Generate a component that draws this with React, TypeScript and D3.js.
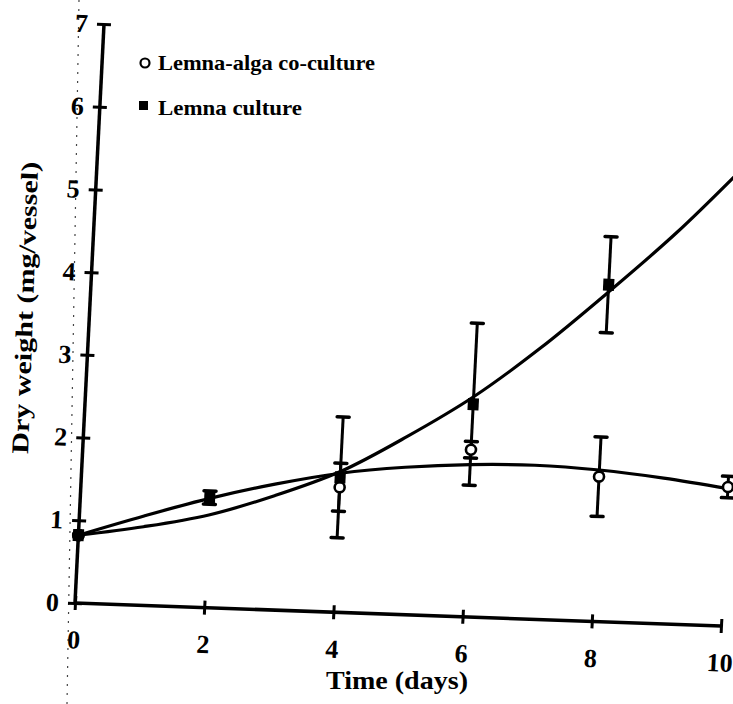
import React, { useEffect, useRef } from 'react';
import * as d3 from 'd3';

const lemnaDays = [0, 2, 4, 6, 8];
const lemnaMean = [0.82, 1.33, 1.63, 2.57, 4.07];
const lemnaErr = [0, 0.08, 0.73, 0.98, 0.58];

const coDays = [0, 4, 6, 8, 10];
const coMean = [0.82, 1.51, 2.02, 1.75, 1.68];
const coErr = [0, 0.29, 0.1, 0.48, 0.13];

// fitted curves as drawn in the figure
const fitDays = [0, 1, 2, 3, 4, 5, 6, 7, 8, 9, 10];
const lemnaFit = [0.82, 0.95, 1.12, 1.38, 1.7, 2.15, 2.66, 3.28, 3.98, 4.72, 5.55];
const coFit = [0.82, 1.08, 1.32, 1.52, 1.68, 1.78, 1.84, 1.86, 1.83, 1.76, 1.66];

const xTicks = [0, 2, 4, 6, 8, 10];
const yTicks = [0, 1, 2, 3, 4, 5, 6, 7];

const legendLabels = ['Lemna-alga co-culture', 'Lemna culture'];

const FONT = '"Liberation Serif", "Times New Roman", serif';

export default function App() {
  const svgRef = useRef<SVGSVGElement>(null);

  useEffect(() => {
    if (!svgRef.current) return;
    const svg = d3.select(svgRef.current);
    svg.selectAll('*').remove();

    const width = 733;
    const height = 704;
    const innerWidth = 646;
    const innerHeight = 579;

    svg.append('rect').attr('width', width).attr('height', height).attr('fill', '#fff');

    // faint fold mark of the scanned page
    svg.append('line')
      .attr('x1', 79).attr('y1', 0).attr('x2', 67).attr('y2', 704)
      .attr('stroke', '#444').attr('stroke-width', 1.2)
      .attr('stroke-dasharray', '2,7');

    const x = d3.scaleLinear().domain([0, 10]).range([0, innerWidth]);
    const y = d3.scaleLinear().domain([0, 7]).range([innerHeight, 0]);

    // the scan is slightly sheared: axes are not quite perpendicular to the page
    const g = svg.append('g')
      .attr('transform', 'matrix(1,0.0356,-0.0501,1,104,24)');

    // y axis
    const yAxis = g.append('g')
      .call(d3.axisLeft(y).tickValues(yTicks).tickSize(7).tickPadding(9).tickFormat(d3.format('d')));
    yAxis.select('.domain').attr('d', `M0,${innerHeight}V0`).attr('stroke-width', 3.5);
    yAxis.selectAll('.tick line').attr('x1', -7).attr('x2', 7).attr('stroke-width', 3);
    yAxis.selectAll('.tick text')
      .style('font-family', FONT).style('font-weight', 'bold').style('font-size', '26px').attr('fill', '#000');

    // x axis
    const xAxis = g.append('g')
      .attr('transform', `translate(0,${innerHeight})`)
      .call(d3.axisBottom(x).tickValues(xTicks).tickSize(7).tickPadding(20).tickFormat(d3.format('d')));
    xAxis.select('.domain').attr('d', `M0,0H${innerWidth}`).attr('stroke-width', 3.5);
    xAxis.selectAll('.tick line').attr('y1', -7).attr('y2', 7).attr('stroke-width', 3);
    xAxis.selectAll('.tick text')
      .style('font-family', FONT).style('font-weight', 'bold').style('font-size', '26px').attr('fill', '#000');

    // fitted curves
    const line = d3.line<number>()
      .x((_, i) => x(fitDays[i]))
      .y(d => y(d))
      .curve(d3.curveCatmullRom);

    g.append('path').datum(lemnaFit).attr('d', line)
      .attr('fill', 'none').attr('stroke', '#000').attr('stroke-width', 3.2);
    g.append('path').datum(coFit).attr('d', line)
      .attr('fill', 'none').attr('stroke', '#000').attr('stroke-width', 3.2);

    const errorBars = (days: number[], means: number[], errs: number[]) => {
      days.forEach((d, i) => {
        if (!errs[i]) return;
        const cx = x(d);
        const top = y(means[i] + errs[i]);
        const bot = y(means[i] - errs[i]);
        g.append('line').attr('x1', cx).attr('x2', cx).attr('y1', top).attr('y2', bot)
          .attr('stroke', '#000').attr('stroke-width', 3);
        [top, bot].forEach(v => {
          g.append('line').attr('x1', cx - 6).attr('x2', cx + 6).attr('y1', v).attr('y2', v)
            .attr('stroke', '#000').attr('stroke-width', 3.5).attr('stroke-linecap', 'round');
        });
      });
    };

    errorBars(coDays, coMean, coErr);
    errorBars(lemnaDays, lemnaMean, lemnaErr);

    // open circles: co-culture
    g.selectAll('.co')
      .data(coDays)
      .enter()
      .append('circle')
      .attr('class', 'co')
      .attr('cx', d => x(d))
      .attr('cy', (_, i) => y(coMean[i]))
      .attr('r', 5)
      .attr('fill', '#fff')
      .attr('stroke', '#000')
      .attr('stroke-width', 2.6);

    // filled squares: Lemna culture
    g.selectAll('.lemna')
      .data(lemnaDays)
      .enter()
      .append('rect')
      .attr('class', 'lemna')
      .attr('x', d => x(d) - 5.5)
      .attr('y', (_, i) => y(lemnaMean[i]) - 6)
      .attr('width', 11)
      .attr('height', 12)
      .attr('fill', '#000');

    // day 0 point is a solid blob in the scan
    g.append('circle').attr('cx', x(0)).attr('cy', y(lemnaMean[0])).attr('r', 6.5).attr('fill', '#000');

    // axis titles
    svg.append('text')
      .attr('x', 397).attr('y', 689)
      .attr('text-anchor', 'middle')
      .attr('font-family', FONT).attr('font-weight', 'bold').attr('font-size', 25)
      .attr('textLength', 142).attr('lengthAdjust', 'spacingAndGlyphs')
      .text('Time (days)');

    svg.append('text')
      .attr('transform', 'translate(33,308) rotate(-88)')
      .attr('text-anchor', 'middle')
      .attr('font-family', FONT).attr('font-weight', 'bold').attr('font-size', 24)
      .attr('textLength', 292).attr('lengthAdjust', 'spacingAndGlyphs')
      .text('Dry weight (mg/vessel)');

    // legend
    const legend = svg.append('g');
    legend.append('circle').attr('cx', 145).attr('cy', 63).attr('r', 4.5)
      .attr('fill', '#fff').attr('stroke', '#000').attr('stroke-width', 2.2);
    legend.append('rect').attr('x', 139).attr('y', 101).attr('width', 9).attr('height', 9).attr('fill', '#000');
    legendLabels.forEach((label, i) => {
      legend.append('text')
        .attr('x', 158).attr('y', i === 0 ? 70 : 115)
        .attr('font-family', FONT).attr('font-weight', 'bold').attr('font-size', 21)
        .attr('textLength', i === 0 ? 217 : 144).attr('lengthAdjust', 'spacingAndGlyphs')
        .text(label);
    });
  }, []);

  return (
    <svg
      ref={svgRef}
      width={733}
      height={704}
      style={{ position: 'absolute', left: 0, top: 0, display: 'block' }}
    />
  );
}
